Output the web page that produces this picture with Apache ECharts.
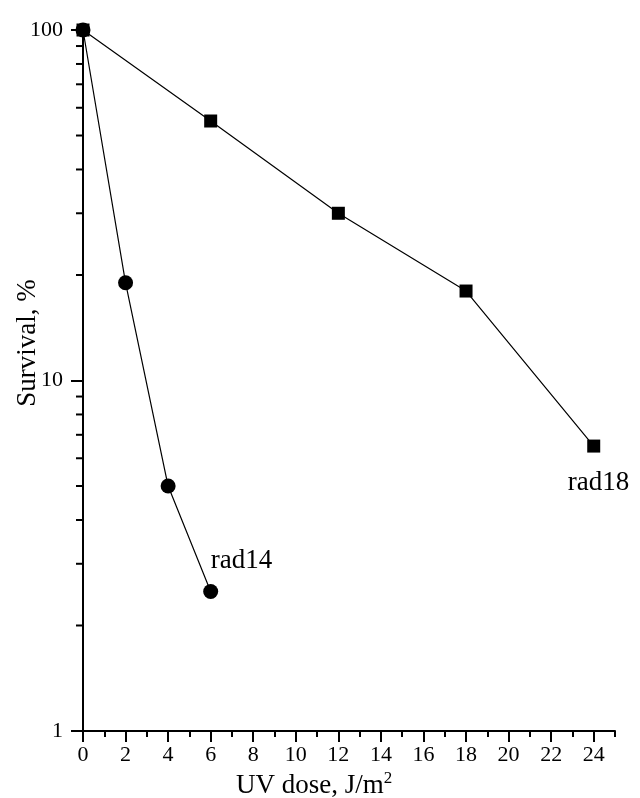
<!DOCTYPE html>
<html>
<head>
<meta charset="utf-8">
<script src="https://cdn.jsdelivr.net/npm/echarts@6/dist/echarts.min.js"></script>
<style>
html,body{margin:0;padding:0;background:#fff;}
#chart{width:640px;height:798px;}
</style>
</head>
<body>
<div id="chart"></div>
<script>
var doseRad18 = [0, 6, 12, 18, 24];
var survivalRad18 = [100, 55, 30, 18, 6.5];
var doseRad14 = [0, 2, 4, 6];
var survivalRad14 = [100, 19, 5, 2.5];
var xMajorTicks = [0, 2, 4, 6, 8, 10, 12, 14, 16, 18, 20, 22, 24];
var xMinorTicks = [1, 3, 5, 7, 9, 11, 13, 15, 17, 19, 21, 23, 25];
var yMinorTicks = [2, 3, 4, 5, 6, 7, 8, 9, 20, 30, 40, 50, 60, 70, 80, 90];

var FONT = "Liberation Serif";

function pairs(xs, ys) { return xs.map(function (x, i) { return [x, ys[i]]; }); }

var chart = echarts.init(document.getElementById('chart'));
chart.setOption({
  animation: false,
  backgroundColor: '#fff',
  textStyle: { fontFamily: FONT },
  grid: { left: 83, right: 25, top: 30, bottom: 67, containLabel: false },
  xAxis: [{
    type: 'value', min: 0, max: 25, interval: 1,
    axisLine: { lineStyle: { color: '#000', width: 2 } },
    axisTick: { show: true, customValues: xMajorTicks, length: 11, lineStyle: { color: '#000', width: 2 } },
    axisLabel: { customValues: xMajorTicks, color: '#000', fontFamily: FONT, fontSize: 22, margin: 13 },
    splitLine: { show: false }
  }, {
    type: 'value', min: 0, max: 25, interval: 1, position: 'bottom',
    axisLine: { show: false },
    axisTick: { show: true, customValues: xMinorTicks, length: 6, lineStyle: { color: '#000', width: 2 } },
    axisLabel: { show: false },
    splitLine: { show: false }
  }],
  yAxis: [{
    type: 'log', logBase: 10, min: 1, max: 100,
    axisLine: { show: true, lineStyle: { color: '#000', width: 2 } },
    axisTick: { show: true, length: 12, lineStyle: { color: '#000', width: 2 } },
    axisLabel: { color: '#000', fontFamily: FONT, fontSize: 22, margin: 20 },
    splitLine: { show: false }
  }],
  graphic: [
    {
      type: 'text', x: 28, y: 343, rotation: Math.PI / 2,
      style: { text: 'Survival, %', fontFamily: FONT, fontSize: 27, fill: '#000', align: 'center', verticalAlign: 'middle' }
    },
    {
      type: 'text', left: 236, top: 770,
      style: {
        text: '{a|UV dose, J/m}{s|2}',
        rich: {
          a: { fontFamily: FONT, fontSize: 27, fill: '#000' },
          s: { fontFamily: FONT, fontSize: 17, fill: '#000', padding: [0, 0, 14, 0] }
        }
      }
    }
  ],
  series: [
    {
      type: 'custom', clip: false, silent: true,
      data: yMinorTicks.map(function (v) { return [0, v]; }),
      renderItem: function (params, api) {
        var p = api.coord([0, api.value(1)]);
        return { type: 'line', shape: { x1: p[0] - 7, y1: p[1], x2: p[0], y2: p[1] }, style: { stroke: '#000', lineWidth: 2 } };
      },
      z: 1
    },
    {
      name: 'rad18', type: 'line',
      data: pairs(doseRad18, survivalRad18),
      symbol: 'rect', symbolSize: 13,
      lineStyle: { color: '#000', width: 1.2 },
      itemStyle: { color: '#000' },
      endLabel: { show: true, formatter: 'rad18', color: '#000', fontFamily: FONT, fontSize: 27, distance: 0, offset: [-26, 37] },
      z: 3
    },
    {
      name: 'rad14', type: 'line',
      data: pairs(doseRad14, survivalRad14),
      symbol: 'circle', symbolSize: 15,
      lineStyle: { color: '#000', width: 1.2 },
      itemStyle: { color: '#000' },
      endLabel: { show: true, formatter: 'rad14', color: '#000', fontFamily: FONT, fontSize: 27, distance: 0, offset: [0, -31] },
      z: 4
    }
  ]
});
</script>
</body>
</html>
